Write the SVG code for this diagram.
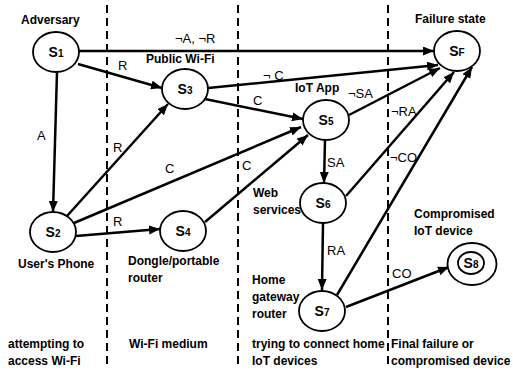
<svg xmlns="http://www.w3.org/2000/svg" width="513" height="377" viewBox="0 0 513 377">
<style>
.bg{fill:#ffffff}
.node{fill:#ffffff;stroke:#000;stroke-width:1.8}
.nl{font-family:"Liberation Sans",Arial,sans-serif;font-weight:bold;font-size:14px;text-anchor:middle;fill:#000}
.sub{font-size:10px}
.edge{stroke:#000;stroke-width:2.5;fill:none;marker-end:url(#ah)}
.el{font-family:"Liberation Sans",Arial,sans-serif;font-size:13px;fill:#000}
.lab{font-family:"Liberation Sans",Arial,sans-serif;font-weight:bold;font-size:12px;fill:#000}
.div{stroke:#000;stroke-width:2;stroke-dasharray:8,5;fill:none}
</style>
<defs>
<marker id="ah" markerUnits="userSpaceOnUse" markerWidth="12" markerHeight="10" refX="11" refY="4.5" orient="auto">
<path d="M0,0 L11,4.5 L0,9 z" fill="#000"/>
</marker>
</defs>
<rect class="bg" x="0" y="0" width="513" height="377"/>
<g id="dividers">
<line class="div" x1="107" y1="5" x2="107" y2="366"/>
<line class="div" x1="238" y1="5" x2="238" y2="366"/>
<line class="div" x1="388" y1="5" x2="388" y2="366"/>
</g>
<g id="connectors">
<line class="edge" x1="79" y1="51" x2="434" y2="51"/>
<line class="edge" x1="78" y1="64" x2="162" y2="88"/>
<line class="edge" x1="57" y1="72" x2="53" y2="212"/>
<line class="edge" x1="67" y1="216" x2="168" y2="104"/>
<line class="edge" x1="74" y1="223" x2="301" y2="127"/>
<line class="edge" x1="76" y1="236" x2="160" y2="229"/>
<line class="edge" x1="205" y1="222" x2="308" y2="135"/>
<line class="edge" x1="208" y1="88" x2="438" y2="65"/>
<line class="edge" x1="205" y1="99" x2="303" y2="119"/>
<line class="edge" x1="349" y1="115" x2="440" y2="68"/>
<line class="edge" x1="325" y1="140" x2="324" y2="183"/>
<line class="edge" x1="346" y1="196" x2="454" y2="72"/>
<line class="edge" x1="337" y1="295" x2="472" y2="67"/>
<line class="edge" x1="323" y1="223" x2="322" y2="290"/>
<line class="edge" x1="346" y1="307" x2="449" y2="267"/>
<text class="el" x="175" y="43">¬A, ¬R</text>
<text class="el" x="118" y="70">R</text>
<text class="el" x="37" y="140">A</text>
<text class="el" x="113" y="152">R</text>
<text class="el" x="165" y="173">C</text>
<text class="el" x="113" y="226">R</text>
<text class="el" x="242" y="170">C</text>
<text class="el" x="263" y="80">¬ C</text>
<text class="el" x="253" y="105">C</text>
<text class="el" x="348" y="98">¬SA</text>
<text class="el" x="327" y="167">SA</text>
<text class="el" x="391" y="116">¬RA</text>
<text class="el" x="390" y="162">¬CO</text>
<text class="el" x="327" y="255">RA</text>
<text class="el" x="392" y="278">CO</text>
</g>
<g id="S1"><ellipse class="node" cx="56" cy="52" rx="23" ry="20"/><text class="nl" x="56" y="57">S<tspan class="sub">1</tspan></text></g>
<g id="S2"><ellipse class="node" cx="53" cy="232" rx="23" ry="20"/><text class="nl" x="53" y="237">S<tspan class="sub">2</tspan></text></g>
<g id="S3"><ellipse class="node" cx="185" cy="89" rx="23" ry="20"/><text class="nl" x="185" y="94">S<tspan class="sub">3</tspan></text></g>
<g id="S4"><ellipse class="node" cx="183" cy="231" rx="23" ry="20"/><text class="nl" x="183" y="236">S<tspan class="sub">4</tspan></text></g>
<g id="S5"><ellipse class="node" cx="326" cy="120" rx="23" ry="20"/><text class="nl" x="326" y="125">S<tspan class="sub">5</tspan></text></g>
<g id="S6"><ellipse class="node" cx="323" cy="203" rx="23" ry="20"/><text class="nl" x="323" y="208">S<tspan class="sub">6</tspan></text></g>
<g id="S7"><ellipse class="node" cx="322" cy="311" rx="23" ry="20"/><text class="nl" x="322" y="316">S<tspan class="sub">7</tspan></text></g>
<g id="SF"><ellipse class="node" cx="457" cy="51" rx="23" ry="20"/><text class="nl" x="457" y="56">S<tspan class="sub">F</tspan></text></g>
<g id="S8"><ellipse class="node" cx="472" cy="264" rx="24.5" ry="21"/><ellipse class="node" cx="471" cy="263" rx="13" ry="11"/><text class="nl" x="471" y="268">S<tspan class="sub">8</tspan></text></g>
<g id="labels">
<text class="lab" x="21" y="24">Adversary</text>
<text class="lab" x="146" y="63">Public Wi-Fi</text>
<text class="lab" x="415" y="23">Failure state</text>
<text class="lab" x="295" y="92">IoT App</text>
<text class="lab" x="253" y="197">Web</text>
<text class="lab" x="253" y="214">services</text>
<text class="lab" x="18" y="268">User's Phone</text>
<text class="lab" x="128" y="265">Dongle/portable</text>
<text class="lab" x="128" y="282">router</text>
<text class="lab" x="252" y="284">Home</text>
<text class="lab" x="252" y="301">gateway</text>
<text class="lab" x="252" y="318">router</text>
<text class="lab" x="414" y="218">Compromised</text>
<text class="lab" x="414" y="235">IoT device</text>
<text class="lab" x="8" y="348">attempting to</text>
<text class="lab" x="8" y="365">access Wi-Fi</text>
<text class="lab" x="129" y="348">Wi-Fi medium</text>
<text class="lab" x="252" y="348">trying to connect home</text>
<text class="lab" x="252" y="365">IoT devices</text>
<text class="lab" x="391" y="348">Final failure or</text>
<text class="lab" x="391" y="365">compromised device</text>
</g>
</svg>
